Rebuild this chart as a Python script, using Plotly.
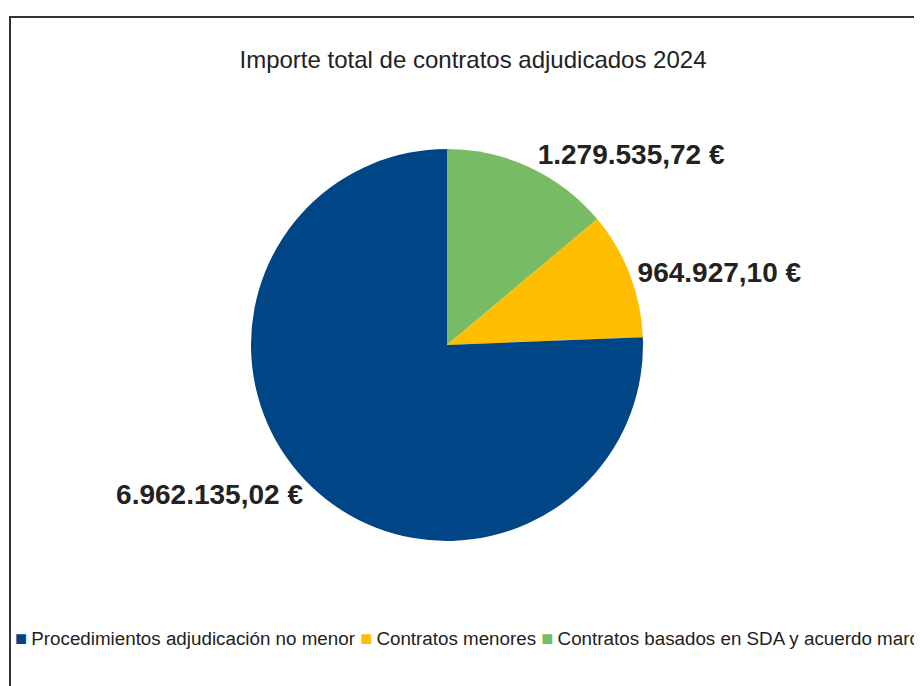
import plotly.graph_objects as go

# Data
categories = ["Procedimientos adjudicación no menor", "Contratos menores",
              "Contratos basados en SDA y acuerdo marco"]
values = [6962135.02, 964927.10, 1279535.72]
colors = ["#004586", "#FFBF00", "#77BC65"]
title_text = "Importe total de contratos adjudicados 2024"


def fmt_es(v):
    s = f"{v:,.2f}"
    return s.replace(",", "X").replace(".", ",").replace("X", ".") + " €"


labels_text = [fmt_es(v) for v in values]

W, H = 922, 686
OFF = 8  # page body margin offset
cx, cy, r = 447 - OFF, 345 - OFF, 196

# drawn clockwise from 12 o'clock in reverse order (= counterclockwise in original order)
fig = go.Figure(go.Pie(
    labels=categories[::-1],
    values=values[::-1],
    text=labels_text[::-1],
    texttemplate="<b>%{text}</b>",
    textposition="outside",
    textfont=dict(family="Liberation Sans", size=28, color="#222222"),
    marker=dict(colors=colors[::-1], line=dict(width=0)),
    sort=False,
    direction="clockwise",
    rotation=0,
    hole=0,
    showlegend=False,
    automargin=False,
    domain=dict(x=[(cx - r) / W, (cx + r) / W],
                y=[(H - cy - r) / H, (H - cy + r) / H]),
))

legend_parts = []
for c, lab in zip(colors, categories):
    legend_parts.append(
        f'<span style="color:{c};font-size:20px">■</span><span style="font-size:15px"> </span>{lab}'
    )
legend_text = " ".join(legend_parts)

fig.update_layout(
    width=W, height=H,
    margin=dict(l=0, r=0, t=0, b=0),
    paper_bgcolor="white",
    plot_bgcolor="white",
    font=dict(family="Liberation Sans", color="#222222"),
    title=dict(text=title_text, x=(473 - OFF) / W, xanchor="center",
               y=1 - (60 - OFF) / H, yanchor="middle",
               font=dict(family="Liberation Sans", size=24, color="#222222")),
    annotations=[dict(
        text=legend_text, xref="paper", yref="paper",
        x=(13 - OFF) / W, y=1 - (638 - OFF) / H, xanchor="left", yanchor="middle",
        showarrow=False, align="left",
        font=dict(family="Liberation Sans", size=18.8, color="#222222"),
    )],
    shapes=[dict(type="rect", xref="paper", yref="paper",
                 x0=(10 - OFF) / W, x1=1.1, y0=-0.1, y1=1 - (17 - OFF) / H,
                 line=dict(color="#333333", width=2), fillcolor="rgba(0,0,0,0)")],
)

fig.write_html("out.html")
